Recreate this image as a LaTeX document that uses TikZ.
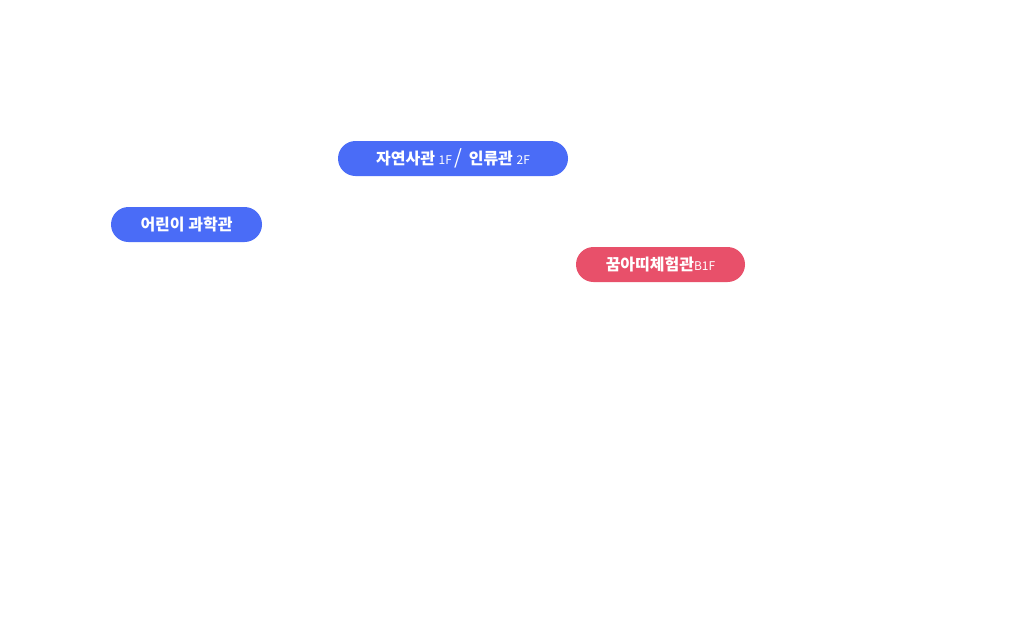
\documentclass[tikz,border=0pt]{standalone}
\usepackage{fontspec}
\newfontfamily\kr{Noto Sans CJK KR}
\usetikzlibrary{positioning}
\definecolor{hallblue}{HTML}{4A6CF7}
\definecolor{hallred}{HTML}{E8506A}
\tikzset{
    hall/.style={rounded corners=17.5pt, minimum height=35pt, inner sep=0pt,
        text=white, font=\kr\bfseries\fontsize{16}{16}\selectfont}
}
\begin{document}
\begin{tikzpicture}[x=1pt,y=-1pt]
        \useasboundingbox[fill=white] (0,0) rectangle (1035,616);

        \node[hall, fill=hallblue, minimum width=230pt] (nature) at (453,158.5)
            {자연사관 {\kr\mdseries\fontsize{12}{12}\selectfont 1F}\,{\kr\mdseries\fontsize{20}{20}\selectfont /}\, 인류관 {\kr\mdseries\fontsize{12}{12}\selectfont 2F}};
        \node[hall, fill=hallblue, minimum width=151pt] (kids) at (186.5,224.5) {어린이 과학관};
        \node[hall, fill=hallred, minimum width=169pt] (dream) at (660.5,264.5)
            {꿈아띠체험관{\kr\mdseries\fontsize{12}{12}\selectfont B1F}};
    \end{tikzpicture}
\end{document}
